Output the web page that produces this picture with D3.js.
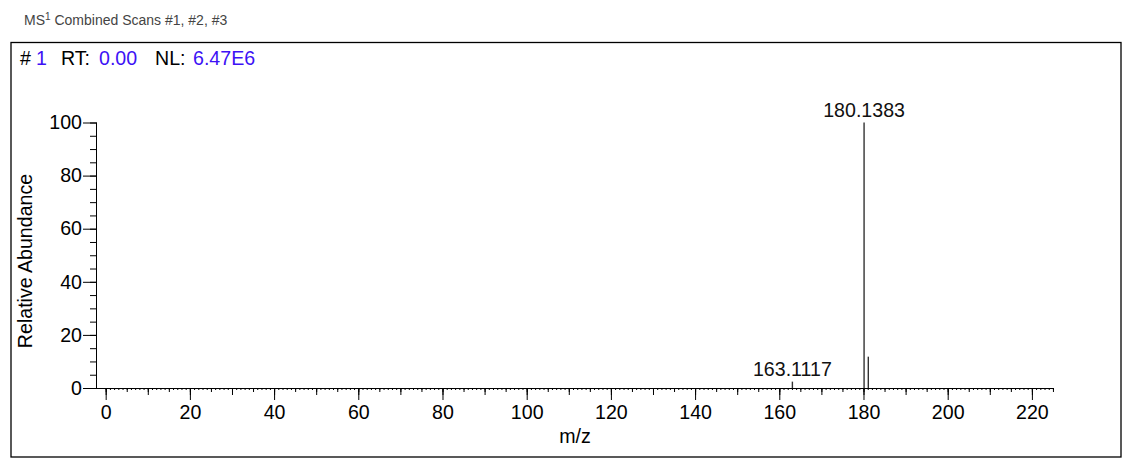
<!DOCTYPE html>
<html>
<head>
<meta charset="utf-8">
<script src="https://cdn.jsdelivr.net/npm/d3@7"></script>
<style>
  html, body { margin: 0; padding: 0; background: #fff; }
  svg { display: block; font-family: "Liberation Sans", Arial, sans-serif; }
</style>
</head>
<body>
<svg id="chart" width="1133" height="465"></svg>
<script>
// ---- data ----
const peakMz = [163.1117, 180.1383, 181.1417];
const peakIntensity = [2.4, 100, 11.8];
const peakLabels = ["163.1117", "180.1383", ""];
const xTickValues = [0, 20, 40, 60, 80, 100, 120, 140, 160, 180, 200, 220];
const yTickValues = [0, 20, 40, 60, 80, 100];
const titleMain = "MS";
const titleSup = "1";
const titleRest = " Combined Scans #1, #2, #3";
const headerParts = [
  { text: "#", blue: false }, { text: "1", blue: true },
  { text: "RT:", blue: false }, { text: "0.00", blue: true },
  { text: "NL:", blue: false }, { text: "6.47E6", blue: true }
];
const headerX = [20, 36, 61, 99, 155, 193];

// ---- layout ----
const svg = d3.select("#chart");
const blue = "#3d12f5";
const fs = 19.6;
const x = d3.scaleLinear().domain([-2.3, 225.25]).range([96, 1054]);
const y = d3.scaleLinear().domain([0, 100]).range([388, 122.5]);

// title
const t = svg.append("text").attr("x", 24).attr("y", 25)
  .attr("font-size", 14).attr("fill", "#444");
t.append("tspan").text(titleMain);
t.append("tspan").attr("font-size", 10).attr("dy", -5).text(titleSup);
t.append("tspan").attr("dy", 5).text(titleRest);

// frame
svg.append("rect").attr("x", 11).attr("y", 42.5).attr("width", 1110).attr("height", 414.5)
  .attr("fill", "none").attr("stroke", "#000").attr("stroke-width", 1.3);

// header
svg.append("g").selectAll("text").data(headerParts).join("text")
  .attr("x", (d, i) => headerX[i]).attr("y", 65)
  .attr("font-size", fs)
  .attr("fill", d => d.blue ? blue : "#000")
  .text(d => d.text);

// x axis levels
function xAxisLevel(step, size) {
  const vals = d3.range(0, 226, step);
  const ax = d3.axisBottom(x).tickValues(vals).tickSize(size).tickSizeOuter(0).tickFormat("");
  return svg.append("g").attr("transform", "translate(0,388)").call(ax);
}
xAxisLevel(1, 2);
xAxisLevel(5, 4);
xAxisLevel(10, 7);
const gx = svg.append("g").attr("transform", "translate(0,388)")
  .call(d3.axisBottom(x).tickValues(xTickValues).tickSize(12).tickSizeOuter(0)
    .tickPadding(5).tickFormat(d3.format("d")));
svg.selectAll("g").filter(function(){ return this.querySelector(".domain"); })
  .select(".domain").attr("d", `M${x.range()[0]},0.5H${x.range()[1]}`);

// y axis
svg.append("g").attr("transform", "translate(96,0)")
  .call(d3.axisLeft(y).tickValues(d3.range(0, 101, 5)).tickSize(6).tickSizeOuter(0).tickFormat(""));
const gy = svg.append("g").attr("transform", "translate(96,0)")
  .call(d3.axisLeft(y).tickValues(yTickValues).tickSize(13).tickSizeOuter(0).tickPadding(1));
svg.selectAll(".tick line").attr("stroke", "#000");
svg.selectAll(".domain").attr("stroke", "#000");
svg.selectAll(".tick text").attr("font-size", fs).attr("fill", "#000")
  .attr("font-family", "Liberation Sans, Arial, sans-serif");
svg.selectAll("g[transform='translate(96,0)'] .domain").attr("d", `M0.5,${y(100)}V${y(0)}`);

// axis titles
svg.append("text").attr("x", 575).attr("y", 443).attr("text-anchor", "middle")
  .attr("font-size", fs).text("m/z");
svg.append("text").attr("transform", "translate(32,261) rotate(-90)")
  .attr("text-anchor", "middle").attr("font-size", fs).text("Relative Abundance");

// peaks
svg.append("g").selectAll("line").data(peakMz).join("line")
  .attr("x1", d => x(d)).attr("x2", d => x(d))
  .attr("y1", y(0)).attr("y2", (d, i) => y(peakIntensity[i]))
  .attr("stroke", "#333").attr("stroke-width", 1.4);

svg.append("g").selectAll("text").data(peakMz).join("text")
  .attr("x", d => x(d)).attr("y", (d, i) => y(peakIntensity[i]) - 5.5)
  .attr("text-anchor", "middle").attr("font-size", fs).attr("fill", "#111")
  .text((d, i) => peakLabels[i]);
</script>
</body>
</html>
